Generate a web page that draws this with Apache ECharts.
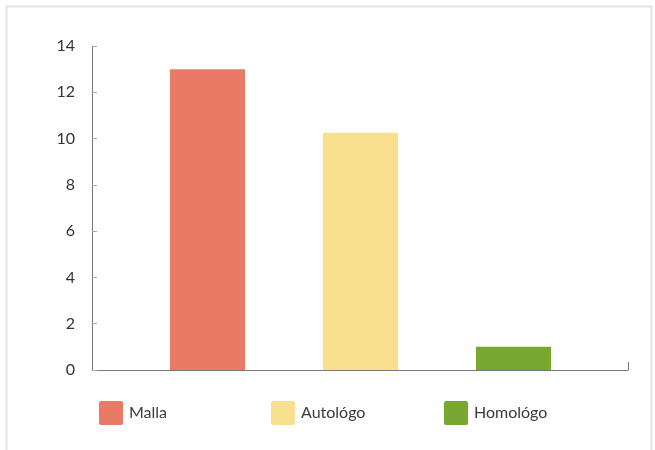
<!DOCTYPE html>
<html style="height: 100%">
<head>
    <meta charset="utf-8">
    <title>ECharts</title>
    <script src="https://cdn.jsdelivr.net/npm/echarts/dist/echarts.min.js"></script>
</head>
<body style="height: 100%; margin: 0; background: #fff">
    <div id="main" style="width: 655px; height: 450px"></div>
    <script type="text/javascript">
        // data
        var categories = ['Malla', 'Autológo', 'Homológo'];
        var values = [13, 10.25, 1];
        var colors = ['#e97a66', '#f9e08e', '#78a832'];
        var yTicks = [0, 2, 4, 6, 8, 10, 12, 14];

        var myChart = echarts.init(document.getElementById('main'));

        // one series per category so each gets its own legend entry
        var series = categories.map(function (name, i) {
            return {
                name: name,
                type: 'bar',
                xAxisIndex: 1,
                yAxisIndex: 1,
                barWidth: 75,
                barGap: '-100%',
                itemStyle: { color: colors[i] },
                data: values.map(function (v, j) { return j === i ? v : '-'; })
            };
        });

        // legend positions, picked to match the reference
        var legendLeft = [94, 266, 439];
        var legends = categories.map(function (name, i) {
            return {
                data: [name],
                left: legendLeft[i],
                top: 396,
                itemWidth: 24,
                itemHeight: 24,
                itemGap: 10,
                icon: 'path://M2,0 L22,0 Q24,0 24,2 L24,22 Q24,24 22,24 L2,24 Q0,24 0,22 L0,2 Q0,0 2,0 Z',
                selectedMode: false,
                textStyle: { fontFamily: 'Lato', fontSize: 16, color: '#3a3a3a', padding: [0, 0, 0, 1] }
            };
        });

        var option = {
            animation: false,
            backgroundColor: '#fff',
            graphic: [{
                type: 'rect',
                shape: { x: 6.5, y: 6.5, width: 645, height: 470 },
                style: { fill: 'none', stroke: '#e2e2e2', lineWidth: 2 }
            }],
            legend: legends,
            grid: [
                { left: 92, right: 27, top: 46, bottom: 80 },
                { left: 131, right: 65, top: 46, bottom: 80 }
            ],
            xAxis: [
                {
                    // plain axis line with an end tick, as in the reference
                    type: 'value',
                    gridIndex: 0,
                    min: 0,
                    max: 1,
                    interval: 1,
                    splitLine: { show: false },
                    axisLine: { lineStyle: { color: '#777', width: 1 } },
                    axisTick: { show: true, inside: true, length: 8, lineStyle: { color: '#777' } },
                    axisLabel: { show: false }
                },
                {
                    type: 'category',
                    gridIndex: 1,
                    data: categories,
                    show: false
                }
            ],
            yAxis: [
                {
                    type: 'value',
                    gridIndex: 0,
                    min: yTicks[0],
                    max: yTicks[yTicks.length - 1],
                    interval: 2,
                    splitLine: { show: false },
                    axisLine: { show: true, lineStyle: { color: '#777', width: 1 } },
                    axisTick: { show: true, inside: true, length: 5, lineStyle: { color: '#aaa' } },
                    axisLabel: { margin: 17, fontFamily: 'Lato', fontSize: 16, color: '#333' }
                },
                {
                    type: 'value',
                    gridIndex: 1,
                    min: yTicks[0],
                    max: yTicks[yTicks.length - 1],
                    show: false
                }
            ],
            series: series
        };

        myChart.setOption(option);
    </script>
</body>
</html>
